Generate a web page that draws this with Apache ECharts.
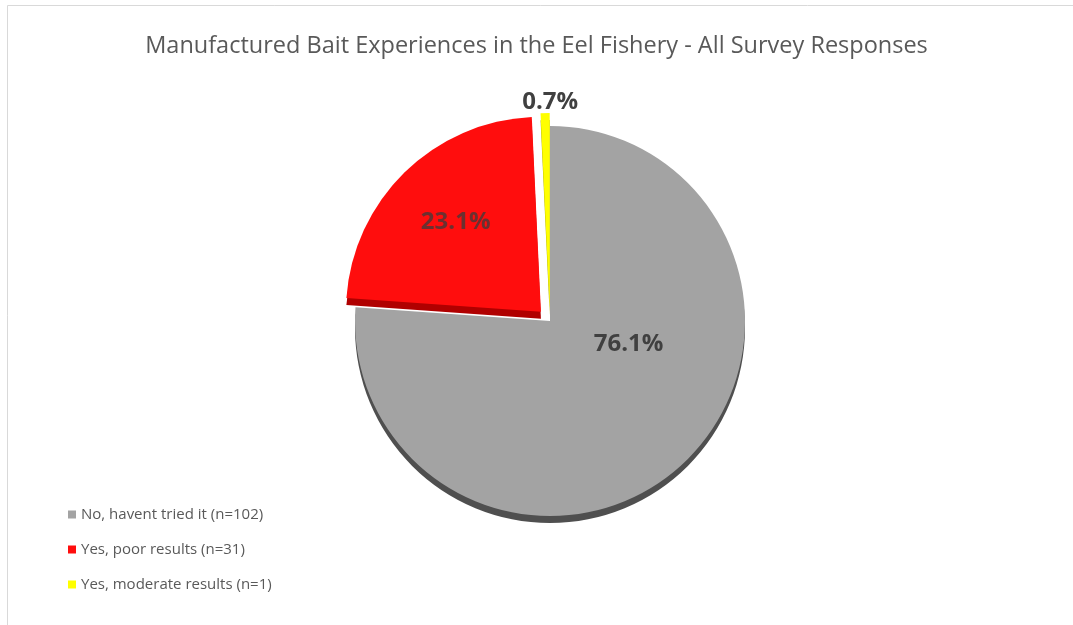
<!DOCTYPE html>
<html>
<head>
<meta charset="utf-8">
<script src="https://cdn.jsdelivr.net/npm/echarts@6/dist/echarts.min.js"></script>
<style>
  html, body { margin: 0; padding: 0; background: #ffffff; }
  #chart { width: 1073px; height: 625px; }
</style>
</head>
<body>
<div id="chart"></div>
<script>
// Survey answers and counts
const categories = ['No, havent tried it (n=102)', 'Yes, poor results (n=31)', 'Yes, moderate results (n=1)'];
const counts = [102, 31, 1];
const faceColors = ['#a3a3a3', '#ff0d0d', '#ffff00'];
const edgeColors = ['#4f4f4f', '#b00000', '#b0b000'];
const explodedSlices = [false, true, true];

const titleText = 'Manufactured Bait Experiences in the Eel Fishery - All Survey Responses';

const chart = echarts.init(document.getElementById('chart'), null, { renderer: 'canvas' });

const total = counts.reduce((a, b) => a + b, 0);
const pct = v => (v / total * 100).toFixed(1) + '%';

const pieCenter = [550, 321];
const pieRadius = 195;
const depth = 7;

const faceData = categories.map((name, i) => ({
  name: name,
  value: counts[i],
  selected: explodedSlices[i],
  itemStyle: { color: faceColors[i] },
  label: i === 2
    ? { position: 'outside' }
    : { position: 'inside', color: i === 1 ? '#6b3030' : '#404040' }
}));

const edgeData = categories.map((name, i) => ({
  name: name,
  value: counts[i],
  selected: explodedSlices[i],
  itemStyle: { color: edgeColors[i] }
}));

chart.setOption({
  animation: false,
  backgroundColor: '#ffffff',
  title: {
    text: titleText,
    left: 'center',
    top: 29,
    textStyle: {
      fontFamily: 'Open Sans',
      fontSize: 23.5,
      fontWeight: 'normal',
      color: '#595959'
    }
  },
  legend: {
    orient: 'vertical',
    left: 63,
    top: 502,
    itemWidth: 8,
    itemHeight: 8,
    itemGap: 20,
    icon: 'rect',
    data: categories,
    textStyle: { fontFamily: 'Open Sans', fontSize: 15, color: '#595959' },
    selectedMode: false
  },
  graphic: [
    {
      type: 'polyline',
      silent: true,
      shape: { points: [[7.5, 640], [7.5, 5.5], [1080, 5.5]] },
      style: { stroke: '#d9d9d9', lineWidth: 1, fill: null }
    }
  ],
  series: [
    {
      type: 'pie',
      name: 'face',
      z: 2,
      center: pieCenter,
      radius: pieRadius,
      startAngle: 90,
      clockwise: true,
      selectedMode: 'multiple',
      selectedOffset: 13,
      emphasis: { disabled: true },
      label: {
        show: true,
        formatter: p => pct(p.value),
        fontFamily: 'Open Sans',
        fontSize: 24,
        fontWeight: 'bold',
        color: '#404040'
      },
      labelLine: { show: false, length: 0, length2: 0 },
      data: faceData,
      labelLayout: function (p) {
        if (p.dataIndex === 0) return { dx: 10, dy: -50 };
        if (p.dataIndex === 1) return { dx: -15, dy: -18 };
        return { align: 'center', verticalAlign: 'bottom', dx: 10, dy: 1 };
      }
    },
    {
      // pie thickness, drawn below the face
      type: 'pie',
      name: 'edge',
      silent: true,
      z: 1,
      center: [pieCenter[0], pieCenter[1] + depth],
      radius: pieRadius,
      startAngle: 90,
      clockwise: true,
      selectedMode: 'multiple',
      selectedOffset: 13,
      label: { show: false },
      labelLine: { show: false },
      emphasis: { disabled: true },
      data: edgeData
    }
  ]
});
</script>
</body>
</html>
